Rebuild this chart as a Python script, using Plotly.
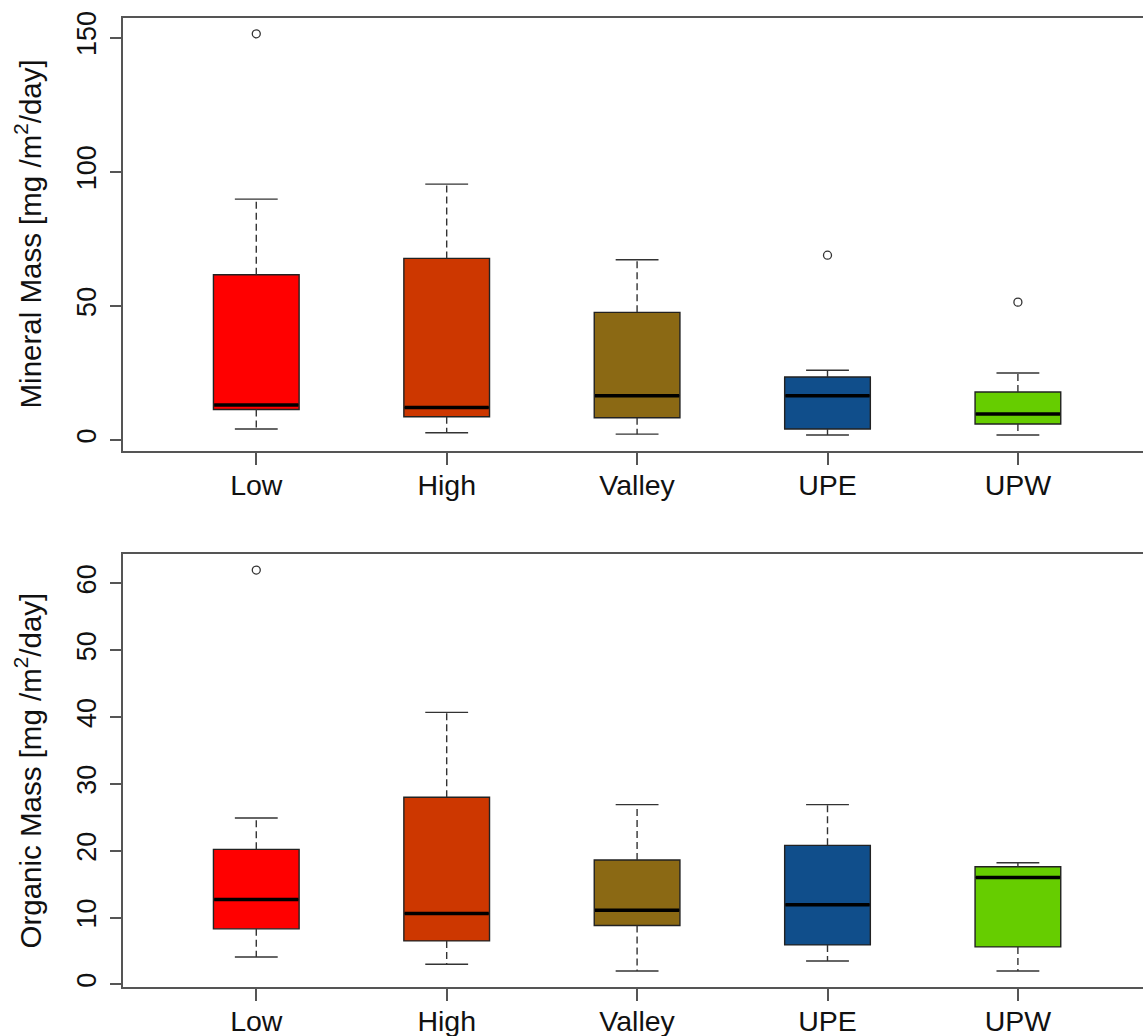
import plotly.graph_objects as go
from plotly.subplots import make_subplots

# Sites, in plotting order
groups = ["Low", "High", "Valley", "UPE", "UPW"]
fill_colors = ["#FF0000", "#CD3700", "#8B6914", "#104E8B", "#66CD00"]

# Mineral mass [mg/m2/day]: five-number summaries per site
mineral_lower = [4.1, 2.7, 2.2, 1.9, 1.9]
mineral_q1 = [11.4, 8.7, 8.3, 4.1, 6.0]
mineral_median = [13.1, 12.1, 16.5, 16.5, 9.7]
mineral_q3 = [61.6, 67.7, 47.6, 23.5, 17.9]
mineral_upper = [89.8, 95.4, 67.2, 26.0, 25.0]
mineral_out_groups = ["Low", "UPE", "UPW"]
mineral_out_values = [151.4, 68.9, 51.4]

# Organic mass [mg/m2/day]
organic_lower = [4.1, 3.0, 2.0, 3.5, 2.0]
organic_q1 = [8.3, 6.5, 8.8, 5.9, 5.6]
organic_median = [12.7, 10.6, 11.1, 11.9, 16.0]
organic_q3 = [20.2, 28.0, 18.6, 20.8, 17.6]
organic_upper = [24.9, 40.7, 26.9, 26.9, 18.2]
organic_out_groups = ["Low"]
organic_out_values = [62.0]

mineral_ticks = [0, 50, 100, 150]
organic_ticks = [0, 10, 20, 30, 40, 50, 60]

BOX_W = 0.45
CAP_W = BOX_W / 2
FONT = "Liberation Sans, Arial, sans-serif"
AXIS_COL = "#555555"
EDGE_COL = "#222222"

fig = make_subplots(rows=2, cols=1, vertical_spacing=0.1063)


def add_panel(row, lower, q1, med, q3, upper, out_groups, out_values):
    for i, g in enumerate(groups):
        pos = i + 1
        # box body (whiskers drawn separately so they can be dashed)
        fig.add_trace(go.Box(
            x=[pos], q1=[q1[i]], median=[med[i]], q3=[q3[i]],
            lowerfence=[q1[i]], upperfence=[q3[i]],
            width=BOX_W, whiskerwidth=0, boxpoints=False,
            fillcolor=fill_colors[i],
            line=dict(color=EDGE_COL, width=1.4),
            showlegend=False, hoverinfo="skip",
        ), row=row, col=1)
        # dashed whiskers
        fig.add_trace(go.Scatter(
            x=[pos, pos, None, pos, pos],
            y=[q3[i], upper[i], None, q1[i], lower[i]],
            mode="lines", line=dict(color="#333333", width=1.4, dash="7px,4px"),
            showlegend=False, hoverinfo="skip",
        ), row=row, col=1)
        # whisker caps
        fig.add_trace(go.Scatter(
            x=[pos - CAP_W / 2, pos + CAP_W / 2, None, pos - CAP_W / 2, pos + CAP_W / 2],
            y=[upper[i], upper[i], None, lower[i], lower[i]],
            mode="lines", line=dict(color="#333333", width=1.4),
            showlegend=False, hoverinfo="skip",
        ), row=row, col=1)
        # thick median bar
        fig.add_trace(go.Scatter(
            x=[pos - BOX_W / 2 + 0.004, pos + BOX_W / 2 - 0.004],
            y=[med[i], med[i]],
            mode="lines", line=dict(color="#000000", width=3.5),
            showlegend=False, hoverinfo="skip",
        ), row=row, col=1)
    # outliers as open circles
    fig.add_trace(go.Scatter(
        x=[groups.index(g) + 1 for g in out_groups], y=out_values,
        mode="markers",
        marker=dict(symbol="circle-open", size=8, color="#333333", line=dict(width=1.3)),
        showlegend=False, hoverinfo="skip",
    ), row=row, col=1)


add_panel(1, mineral_lower, mineral_q1, mineral_median, mineral_q3, mineral_upper,
          mineral_out_groups, mineral_out_values)
add_panel(2, organic_lower, organic_q1, organic_median, organic_q3, organic_upper,
          organic_out_groups, organic_out_values)

xaxis_style = dict(
    range=[0.3, 5.657], tickmode="array", tickvals=[1, 2, 3, 4, 5], ticktext=groups,
    ticks="outside", ticklen=12, tickwidth=1.5, tickcolor=AXIS_COL,
    showline=True, linecolor=AXIS_COL, linewidth=1.6, mirror=True,
    showgrid=False, zeroline=False, automargin=False, ticklabelstandoff=-4,
    tickfont=dict(family=FONT, size=28.5, color="#111111"),
)
yaxis_style = dict(
    ticks="outside", ticklen=11, tickwidth=1.5, tickcolor=AXIS_COL, tickangle=-90,
    showline=True, linecolor=AXIS_COL, linewidth=1.6, mirror=False,
    showgrid=False, zeroline=False, ticklabelstandoff=3, automargin=False,
    tickfont=dict(family=FONT, size=27, color="#111111"),
)

fig.update_xaxes(**xaxis_style)
fig.update_yaxes(**yaxis_style)
fig.update_yaxes(range=[-4.08, 157.3], tickvals=mineral_ticks, row=1, col=1)
fig.update_yaxes(range=[-0.4, 64.4], tickvals=organic_ticks, row=2, col=1)

title_font = dict(family=FONT, size=29.5, color="#111111")
fig.update_layout(
    width=1143, height=1036,
    margin=dict(l=123, r=0, t=18, b=49),
    paper_bgcolor="white", plot_bgcolor="white",
    font=dict(family=FONT, color="#111111"),
    annotations=[
        dict(text="Mineral Mass [mg /m<sup>2</sup>/day]", xref="paper", yref="y domain",
             x=0, y=0.5, xshift=-95, xanchor="center", yanchor="middle",
             textangle=-90, showarrow=False, font=title_font),
        dict(text="Organic Mass [mg /m<sup>2</sup>/day]", xref="paper", yref="y2 domain",
             x=0, y=0.5, xshift=-95, xanchor="center", yanchor="middle",
             textangle=-90, showarrow=False, font=title_font),
    ],
)

fig.write_html("out.html")
